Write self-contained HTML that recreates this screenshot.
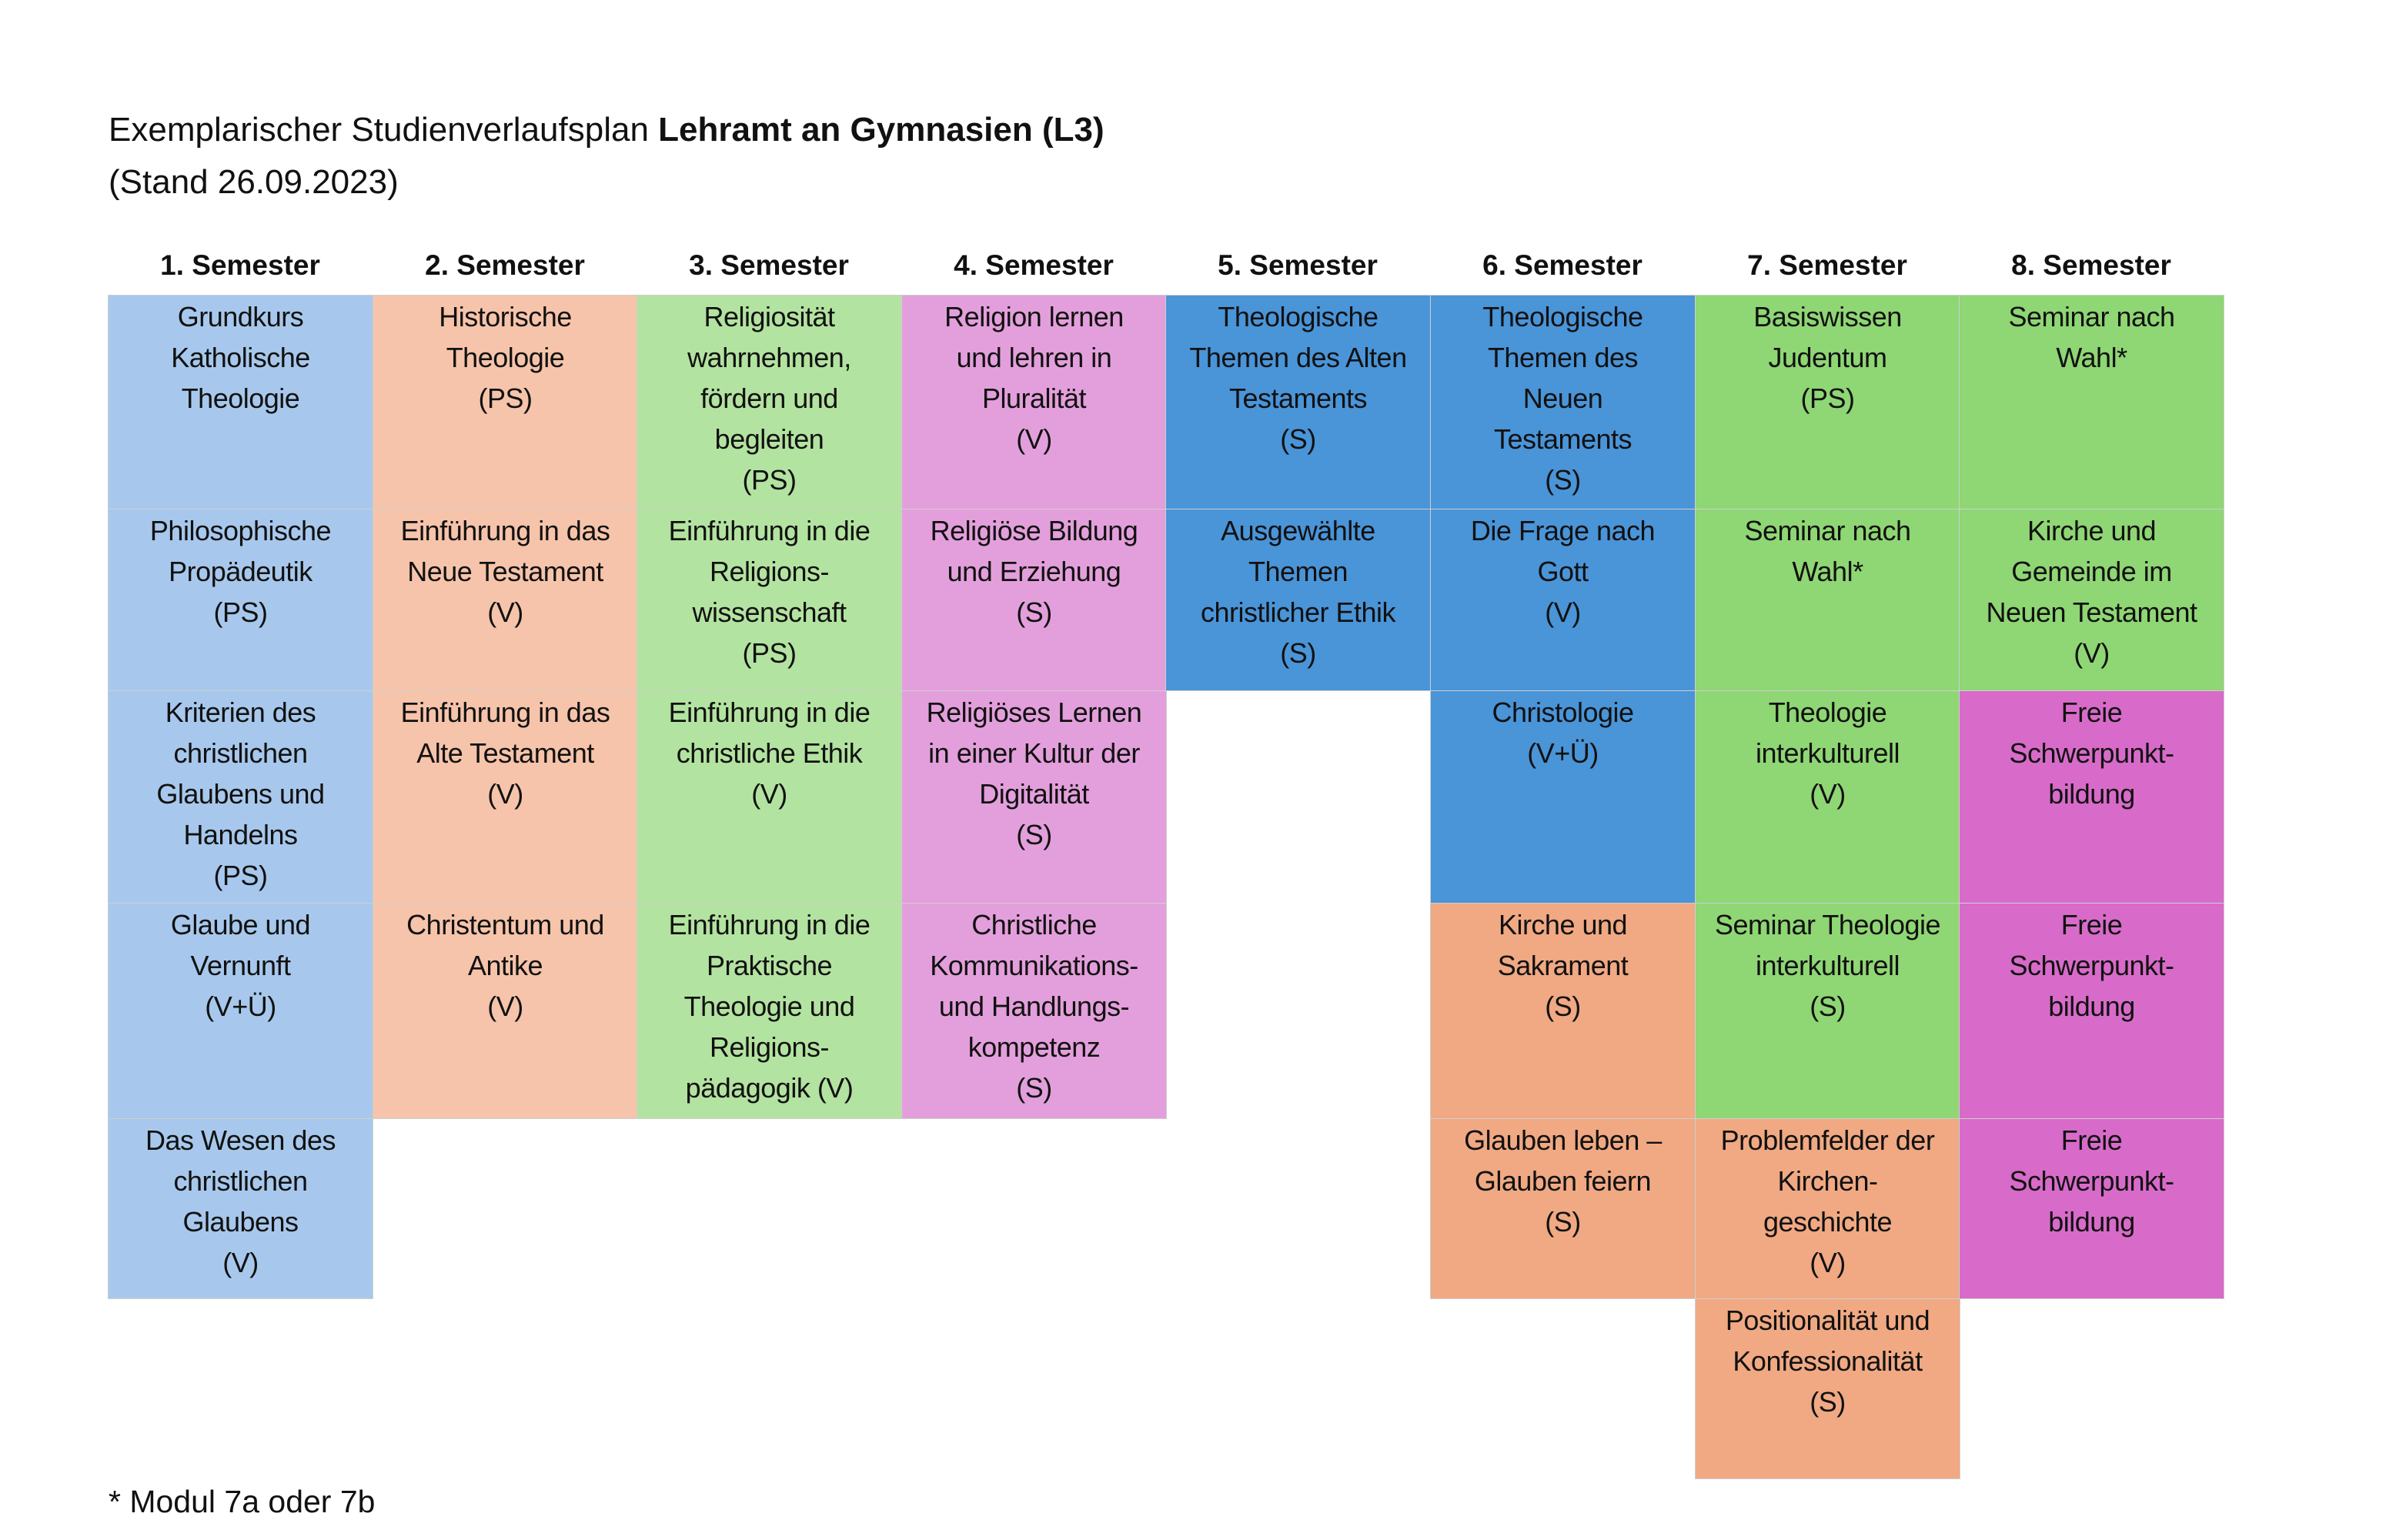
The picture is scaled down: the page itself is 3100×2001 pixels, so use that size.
<!DOCTYPE html>
<html><head><meta charset="utf-8"><style>
body{margin:0;width:3100px;height:2001px;background:#fff;position:relative;overflow:hidden;font-family:"Liberation Sans",sans-serif;color:#111;}
.c{position:absolute;box-sizing:border-box;border:1px solid #cfcfcf;text-align:center;font-size:36px;line-height:53px;padding-top:1px;letter-spacing:-0.5px;}
.h{position:absolute;top:318px;width:344px;text-align:center;font-weight:bold;font-size:37px;line-height:54px;}
.t{position:absolute;left:141px;font-size:44px;line-height:54px;}
.A{background:#a7c8ec}.B{background:#f6c4aa}.C{background:#b3e3a0}.D{background:#e39fdb}.E{background:#4a94d8}.F{background:#8fd674}.G{background:#d86bc9}.H{background:#f0a983}
</style></head><body>
<div class="t" style="top:142px">Exemplarischer Studienverlaufsplan <b>Lehramt an Gymnasien (L3)</b></div>
<div class="t" style="top:210px">(Stand 26.09.2023)</div>
<div class="t" style="top:1924px;font-size:41px">* Modul 7a oder 7b</div>

<div class="h" style="left:140px">1. Semester</div>
<div class="h" style="left:484px">2. Semester</div>
<div class="h" style="left:827px">3. Semester</div>
<div class="h" style="left:1171px">4. Semester</div>
<div class="h" style="left:1514px">5. Semester</div>
<div class="h" style="left:1858px">6. Semester</div>
<div class="h" style="left:2202px">7. Semester</div>
<div class="h" style="left:2545px">8. Semester</div>

<div class="c A" style="left:140px;top:383px;width:345px;height:279px">Grundkurs<br>Katholische<br>Theologie</div>
<div class="c A" style="left:140px;top:661px;width:345px;height:237px">Philosophische<br>Propädeutik<br>(PS)</div>
<div class="c A" style="left:140px;top:897px;width:345px;height:277px">Kriterien des<br>christlichen<br>Glaubens und<br>Handelns<br>(PS)</div>
<div class="c A" style="left:140px;top:1173px;width:345px;height:281px">Glaube und<br>Vernunft<br>(V+Ü)</div>
<div class="c A" style="left:140px;top:1453px;width:345px;height:235px">Das Wesen des<br>christlichen<br>Glaubens<br>(V)</div>
<div class="c B" style="left:484px;top:383px;width:345px;height:279px">Historische<br>Theologie<br>(PS)</div>
<div class="c B" style="left:484px;top:661px;width:345px;height:237px">Einführung in das<br>Neue Testament<br>(V)</div>
<div class="c B" style="left:484px;top:897px;width:345px;height:277px">Einführung in das<br>Alte Testament<br>(V)</div>
<div class="c B" style="left:484px;top:1173px;width:345px;height:281px">Christentum und<br>Antike<br>(V)</div>
<div class="c C" style="left:827px;top:383px;width:345px;height:279px">Religiosität<br>wahrnehmen,<br>fördern und<br>begleiten<br>(PS)</div>
<div class="c C" style="left:827px;top:661px;width:345px;height:237px">Einführung in die<br>Religions-<br>wissenschaft<br>(PS)</div>
<div class="c C" style="left:827px;top:897px;width:345px;height:277px">Einführung in die<br>christliche Ethik<br>(V)</div>
<div class="c C" style="left:827px;top:1173px;width:345px;height:281px">Einführung in die<br>Praktische<br>Theologie und<br>Religions-<br>pädagogik (V)</div>
<div class="c D" style="left:1171px;top:383px;width:345px;height:279px">Religion lernen<br>und lehren in<br>Pluralität<br>(V)</div>
<div class="c D" style="left:1171px;top:661px;width:345px;height:237px">Religiöse Bildung<br>und Erziehung<br>(S)</div>
<div class="c D" style="left:1171px;top:897px;width:345px;height:277px">Religiöses Lernen<br>in einer Kultur der<br>Digitalität<br>(S)</div>
<div class="c D" style="left:1171px;top:1173px;width:345px;height:281px">Christliche<br>Kommunikations-<br>und Handlungs-<br>kompetenz<br>(S)</div>
<div class="c E" style="left:1514px;top:383px;width:345px;height:279px">Theologische<br>Themen des Alten<br>Testaments<br>(S)</div>
<div class="c E" style="left:1514px;top:661px;width:345px;height:237px">Ausgewählte<br>Themen<br>christlicher Ethik<br>(S)</div>
<div class="c E" style="left:1858px;top:383px;width:345px;height:279px">Theologische<br>Themen des<br>Neuen<br>Testaments<br>(S)</div>
<div class="c E" style="left:1858px;top:661px;width:345px;height:237px">Die Frage nach<br>Gott<br>(V)</div>
<div class="c E" style="left:1858px;top:897px;width:345px;height:277px">Christologie<br>(V+Ü)</div>
<div class="c H" style="left:1858px;top:1173px;width:345px;height:281px">Kirche und<br>Sakrament<br>(S)</div>
<div class="c H" style="left:1858px;top:1453px;width:345px;height:235px">Glauben leben –<br>Glauben feiern<br>(S)</div>
<div class="c F" style="left:2202px;top:383px;width:345px;height:279px">Basiswissen<br>Judentum<br>(PS)</div>
<div class="c F" style="left:2202px;top:661px;width:345px;height:237px">Seminar nach<br>Wahl*</div>
<div class="c F" style="left:2202px;top:897px;width:345px;height:277px">Theologie<br>interkulturell<br>(V)</div>
<div class="c F" style="left:2202px;top:1173px;width:345px;height:281px">Seminar Theologie<br>interkulturell<br>(S)</div>
<div class="c H" style="left:2202px;top:1453px;width:345px;height:235px">Problemfelder der<br>Kirchen-<br>geschichte<br>(V)</div>
<div class="c H" style="left:2202px;top:1687px;width:345px;height:235px">Positionalität und<br>Konfessionalität<br>(S)</div>
<div class="c F" style="left:2545px;top:383px;width:345px;height:279px">Seminar nach<br>Wahl*</div>
<div class="c F" style="left:2545px;top:661px;width:345px;height:237px">Kirche und<br>Gemeinde im<br>Neuen Testament<br>(V)</div>
<div class="c G" style="left:2545px;top:897px;width:345px;height:277px">Freie<br>Schwerpunkt-<br>bildung</div>
<div class="c G" style="left:2545px;top:1173px;width:345px;height:281px">Freie<br>Schwerpunkt-<br>bildung</div>
<div class="c G" style="left:2545px;top:1453px;width:345px;height:235px">Freie<br>Schwerpunkt-<br>bildung</div>
</body></html>
